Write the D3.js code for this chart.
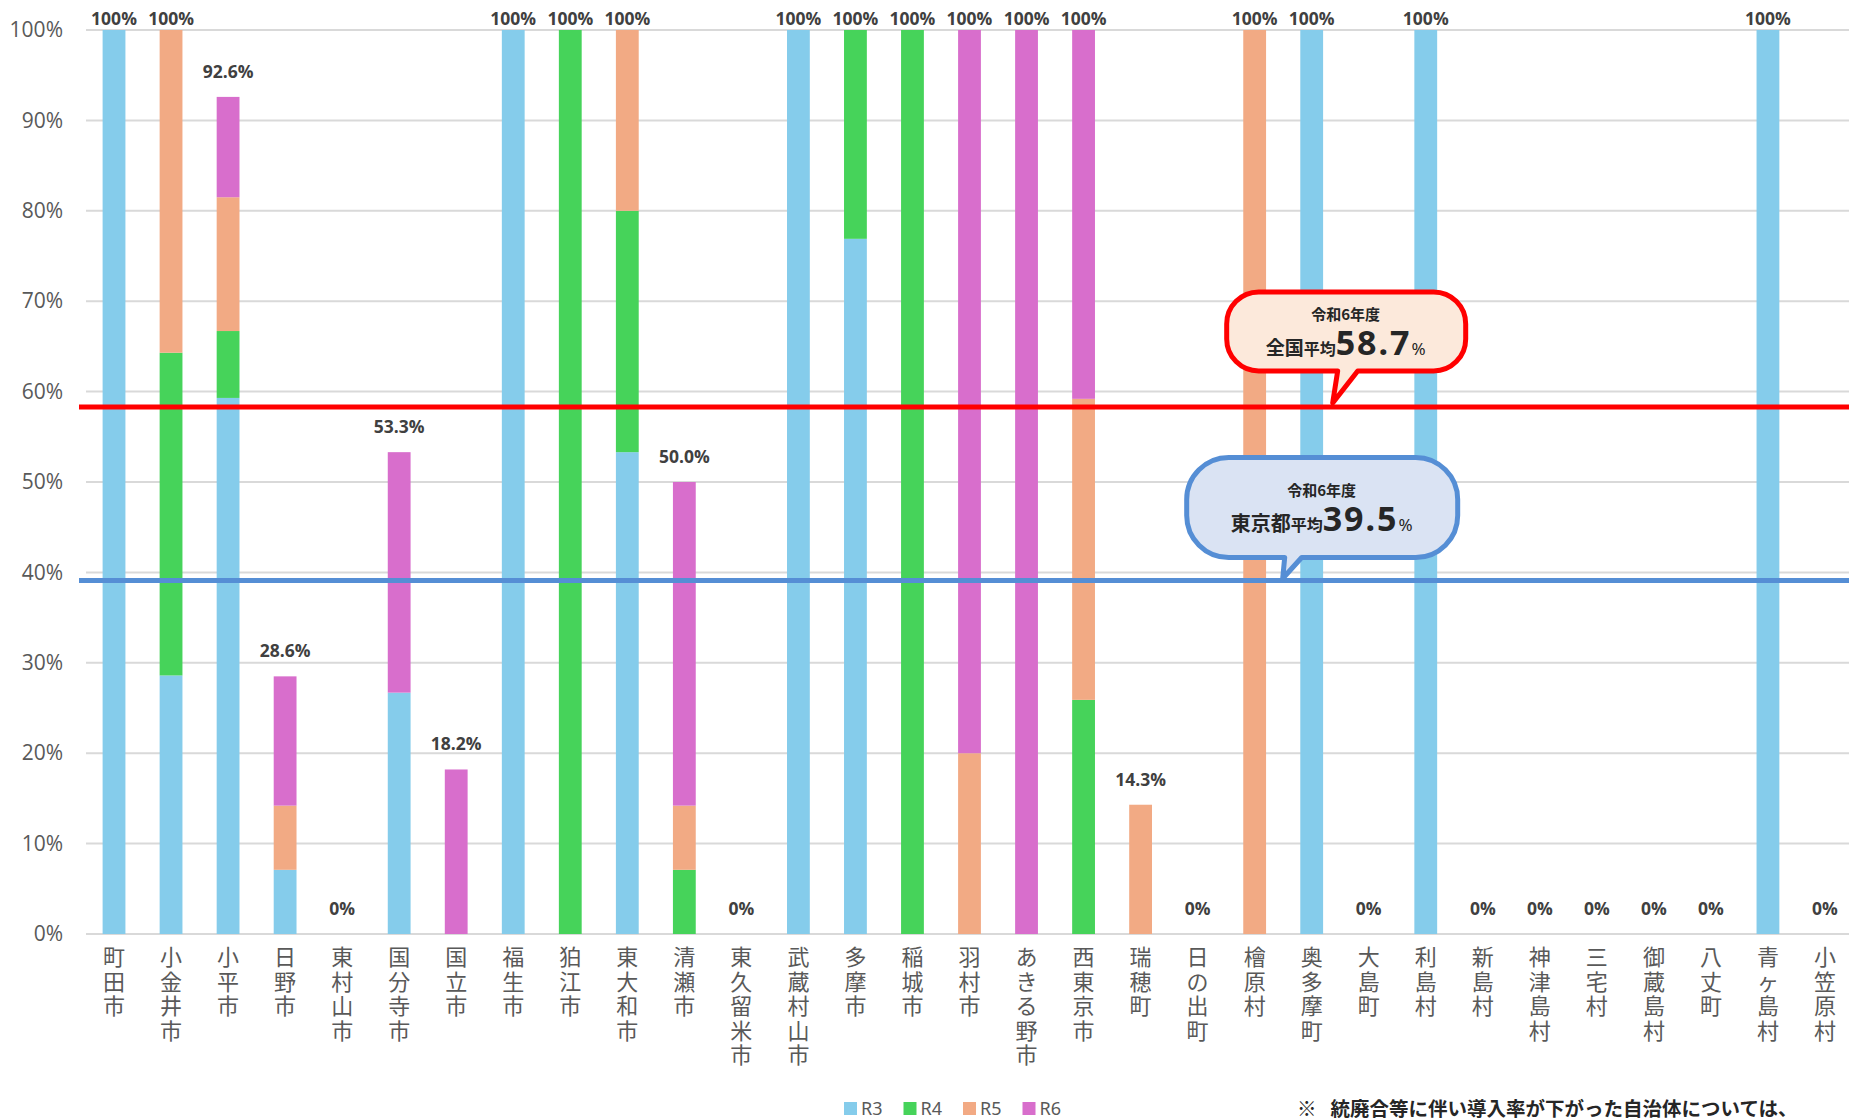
<!DOCTYPE html>
<html>
<head>
<meta charset="utf-8">
<script src="https://cdn.jsdelivr.net/npm/d3@7"></script>
<style>
  body { margin: 0; background: #fff; }
  svg { display: block; }
</style>
</head>
<body>
<div id="chart"></div>
<script>
// Municipalities (x categories)
var municipalities = ["町田市", "小金井市", "小平市", "日野市", "東村山市", "国分寺市", "国立市", "福生市",
  "狛江市", "東大和市", "清瀬市", "東久留米市", "武蔵村山市", "多摩市", "稲城市", "羽村市", "あきる野市",
  "西東京市", "瑞穂町", "日の出町", "檜原村", "奥多摩町", "大島町", "利島村", "新島村", "神津島村",
  "三宅村", "御蔵島村", "八丈町", "青ヶ島村", "小笠原村"];

// Stacked series values (%)
var r3 = [100, 28.6, 59.3, 7.1, 0, 26.7, 0, 100, 0, 53.3, 0, 0, 100, 76.9, 0, 0, 0,
  0, 0, 0, 0, 100, 0, 100, 0, 0, 0, 0, 0, 100, 0];
var r4 = [0, 35.7, 7.4, 0, 0, 0, 0, 0, 100, 26.7, 7.1, 0, 0, 23.1, 100, 0, 0,
  25.9, 0, 0, 0, 0, 0, 0, 0, 0, 0, 0, 0, 0, 0];
var r5 = [0, 35.7, 14.8, 7.1, 0, 0, 0, 0, 0, 20.0, 7.1, 0, 0, 0, 0, 20, 0,
  33.3, 14.3, 0, 100, 0, 0, 0, 0, 0, 0, 0, 0, 0, 0];
var r6 = [0, 0, 11.1, 14.3, 0, 26.6, 18.2, 0, 0, 0, 35.8, 0, 0, 0, 0, 80, 100,
  40.8, 0, 0, 0, 0, 0, 0, 0, 0, 0, 0, 0, 0, 0];

var seriesKeys = ["R3", "R4", "R5", "R6"];
var seriesColors = ["#85CCEB", "#46D35A", "#F2AA84", "#D86ECC"];

// Total labels shown above bars
var totalLabels = ["100%", "100%", "92.6%", "28.6%", "0%", "53.3%", "18.2%", "100%", "100%", "100%",
  "50.0%", "0%", "100%", "100%", "100%", "100%", "100%", "100%", "14.3%", "0%", "100%", "100%",
  "0%", "100%", "0%", "0%", "0%", "0%", "0%", "100%", "0%"];

var yTicks = [0, 10, 20, 30, 40, 50, 60, 70, 80, 90, 100];

// Averages (label text and where the line is drawn)
var avgNames = ["全国", "東京都"];
var avgValues = ["58.7", "39.5"];
var avgLinePos = [58.3, 39.1];
var avgYear = "令和6年度";

var noteText = "統廃合等に伴い導入率が下がった自治体については、";

var width = 1849, height = 1118;

var svg = d3.select("#chart").append("svg")
  .attr("width", width)
  .attr("height", height);

svg.append("rect").attr("width", width).attr("height", height).attr("fill", "#fff");

var x = d3.scaleBand()
  .domain(municipalities)
  .range([85.5, 1853.5])
  .paddingInner(0.6)
  .paddingOuter(0.3);

var y = d3.scaleLinear()
  .domain([0, 100])
  .range([934, 30]);

// Gridlines
svg.append("g").selectAll("line")
  .data(yTicks)
  .enter().append("line")
  .attr("x1", 86)
  .attr("x2", width)
  .attr("y1", function(d) { return y(d); })
  .attr("y2", function(d) { return y(d); })
  .style("stroke", "#D9D9D9")
  .style("stroke-width", 2);

// Y axis labels
var yAxis = d3.axisLeft(y)
  .tickValues(yTicks)
  .tickSize(0)
  .tickPadding(0)
  .tickFormat(function(d) { return d + "%"; });

var yAxisG = svg.append("g")
  .attr("transform", "translate(63,0)")
  .call(yAxis);
yAxisG.select(".domain").remove();
yAxisG.selectAll("text")
  .style("font-family", "'Open Sans', 'Noto Sans', sans-serif")
  .style("font-size", "21px")
  .style("fill", "#595959");

// Build table for stacking
var rows = municipalities.map(function(name, i) {
  return { name: name, R3: r3[i], R4: r4[i], R5: r5[i], R6: r6[i] };
});

var stacked = d3.stack().keys(seriesKeys)(rows);

var layers = svg.append("g").selectAll("g")
  .data(stacked)
  .enter().append("g")
  .style("fill", function(d, i) { return seriesColors[i]; });

layers.selectAll("rect")
  .data(function(d) { return d; })
  .enter().append("rect")
  .filter(function(d) { return d[1] - d[0] > 0; })
  .attr("x", function(d) { return x(d.data.name); })
  .attr("width", x.bandwidth())
  .attr("y", function(d) { return y(d[1]); })
  .attr("height", function(d) { return y(d[0]) - y(d[1]); });

// Total labels
svg.append("g").selectAll("text")
  .data(rows)
  .enter().append("text")
  .attr("x", function(d) { return x(d.name) + x.bandwidth() / 2; })
  .attr("y", function(d) {
    var top = y(d.R3 + d.R4 + d.R5 + d.R6);
    return Math.max(top - 19, 25);
  })
  .attr("text-anchor", "middle")
  .style("font-family", "'Open Sans', 'Noto Sans', sans-serif")
  .style("font-weight", "bold")
  .style("font-size", "17.5px")
  .style("fill", "#404040")
  .text(function(d, i) { return totalLabels[i]; });

// X labels, written vertically
var xLabels = svg.append("g").selectAll("text")
  .data(municipalities)
  .enter().append("text")
  .attr("text-anchor", "middle")
  .style("font-family", "'Noto Sans CJK JP', sans-serif")
  .style("font-size", "22px")
  .style("fill", "#595959");

xLabels.each(function(name) {
  var cx = x(name) + x.bandwidth() / 2;
  var t = d3.select(this);
  name.split("").forEach(function(ch, k) {
    t.append("tspan")
      .attr("x", cx)
      .attr("y", 965 + k * 24.5)
      .text(ch);
  });
});

// Average lines
var avgColors = ["#FF0000", "#558ED5"];
var avgFills = ["#FCE9DB", "#DAE3F3"];

svg.append("g").selectAll("line")
  .data(avgLinePos)
  .enter().append("line")
  .attr("x1", 79)
  .attr("x2", width)
  .attr("y1", function(d) { return y(d); })
  .attr("y2", function(d) { return y(d); })
  .style("stroke", function(d, i) { return avgColors[i]; })
  .style("stroke-width", 5);

// Callouts
function calloutPath(l, t, r, b, rad, baseL, baseR, tipX, tipY) {
  return "M" + (l + rad) + "," + t +
    " H" + (r - rad) +
    " A" + rad + "," + rad + " 0 0 1 " + r + "," + (t + rad) +
    " V" + (b - rad) +
    " A" + rad + "," + rad + " 0 0 1 " + (r - rad) + "," + b +
    " H" + baseR +
    " L" + tipX + "," + tipY +
    " L" + baseL + "," + b +
    " H" + (l + rad) +
    " A" + rad + "," + rad + " 0 0 1 " + l + "," + (b - rad) +
    " V" + (t + rad) +
    " A" + rad + "," + rad + " 0 0 1 " + (l + rad) + "," + t + " Z";
}

var anchor = x("奥多摩町") + x.bandwidth() / 2;

var callouts = [
  { tipX: anchor + 21, tipY: y(avgLinePos[0]) - 4, l: -106, r: 133, t: -111, b: -32, rad: 32,
    bl: 5, br: 25, tx: 13, nameSize: 19 },
  { tipX: anchor - 29, tipY: y(avgLinePos[1]) - 2, l: -96, r: 175, t: -121, b: -21, rad: 42,
    bl: 2, br: 19, tx: 39, nameSize: 20 }
];

callouts.forEach(function(c, i) {
  var g = svg.append("g");
  g.append("path")
    .attr("d", calloutPath(c.tipX + c.l, c.tipY + c.t, c.tipX + c.r, c.tipY + c.b, c.rad,
      c.tipX + c.bl, c.tipX + c.br, c.tipX, c.tipY))
    .style("fill", avgFills[i])
    .style("stroke", avgColors[i])
    .style("stroke-width", 5)
    .style("stroke-linejoin", "round");

  g.append("text")
    .attr("x", c.tipX + c.tx)
    .attr("y", c.tipY - 83)
    .attr("text-anchor", "middle")
    .style("font-family", "'Noto Sans CJK JP', sans-serif")
    .style("font-weight", "bold")
    .style("font-size", "15px")
    .style("fill", "#262626")
    .text(avgYear);

  var t2 = g.append("text")
    .attr("x", c.tipX + c.tx)
    .attr("y", c.tipY - 48)
    .attr("text-anchor", "middle")
    .style("font-family", "'Noto Sans CJK JP', sans-serif")
    .style("font-weight", "bold")
    .style("fill", "#262626");
  t2.append("tspan").style("font-size", c.nameSize + "px").text(avgNames[i]);
  t2.append("tspan").style("font-size", "16px").text("平均");
  t2.append("tspan").style("font-size", "34px").style("letter-spacing", "2px")
    .style("font-family", "'Noto Sans', sans-serif").text(avgValues[i]);
  t2.append("tspan").style("font-size", "17px").style("font-weight", "normal")
    .style("font-family", "'Noto Sans', sans-serif").text("%");
});

// Legend
var legend = svg.append("g").selectAll("g")
  .data(seriesKeys)
  .enter().append("g")
  .attr("transform", function(d, i) { return "translate(" + (844 + i * 59.5) + ",1102)"; });

legend.append("rect")
  .attr("width", 13)
  .attr("height", 13)
  .style("fill", function(d, i) { return seriesColors[i]; });

legend.append("text")
  .attr("x", 17)
  .attr("y", 13)
  .style("font-family", "'Noto Sans', sans-serif")
  .style("font-size", "18px")
  .style("fill", "#595959")
  .text(function(d) { return d; });

// Note
var note = svg.append("text")
  .attr("x", 1297)
  .attr("y", 1116)
  .style("font-family", "'Noto Sans CJK JP', sans-serif")
  .style("font-weight", "bold")
  .style("font-size", "19.5px")
  .style("fill", "#262626");
note.append("tspan").style("font-weight", "normal").text("※");
note.append("tspan").attr("dx", 14).text(noteText);
</script>
</body>
</html>
